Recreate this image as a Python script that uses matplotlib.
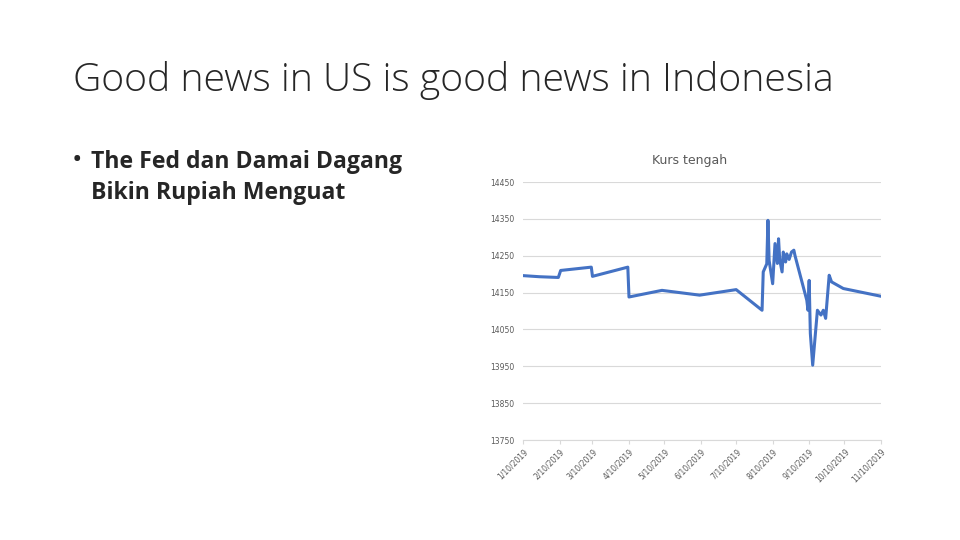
import numpy as np
import pandas as pd
import matplotlib
matplotlib.use('Agg')
import matplotlib.pyplot as plt

# data
dates = ['2019-01-10', '2019-01-24', '2019-02-09', '2019-02-11', '2019-03-09', '2019-03-10',
         '2019-04-09', '2019-04-10', '2019-05-08', '2019-06-09', '2019-07-10', '2019-08-01',
         '2019-08-02', '2019-08-05', '2019-08-06', '2019-08-07', '2019-08-10', '2019-08-12',
         '2019-08-14', '2019-08-15', '2019-08-16', '2019-08-18', '2019-08-19', '2019-08-21',
         '2019-08-22', '2019-08-24', '2019-08-26', '2019-08-28', '2019-08-29', '2019-09-08',
         '2019-09-09', '2019-09-10', '2019-09-11', '2019-09-13', '2019-09-17', '2019-09-20',
         '2019-09-22', '2019-09-24', '2019-09-27', '2019-09-29', '2019-10-09', '2019-11-10']
kurs = [14196, 14193, 14191, 14210, 14219, 14194,
        14219, 14138, 14156, 14143, 14158, 14102,
        14206, 14228, 14346, 14237, 14174, 14283,
        14229, 14296, 14239, 14206, 14260, 14233,
        14255, 14240, 14260, 14265, 14250, 14129,
        14102, 14183, 14039, 13953, 14102, 14089,
        14102, 14080, 14197, 14179, 14161, 14140]
tick_dates = pd.date_range('2019-01-01', '2019-11-01', freq='MS') + pd.Timedelta(days=9)
y_ticks = np.arange(13750, 14451, 100)

title = 'Good news in US is good news in Indonesia'
bullet_lines = ['The Fed dan Damai Dagang', 'Bikin Rupiah Menguat']
chart_title = 'Kurs tengah'

x = pd.to_datetime(dates)

fig = plt.figure(figsize=(9.6, 5.4), dpi=100)
fig.text(73 / 960, 1 - 80 / 540, title, fontsize=28.2, family='Open Sans', fontweight='light',
         color='#262626', va='center', ha='left')
fig.text(72 / 960, 1 - 161 / 540, '•', fontsize=20, family='Open Sans', color='#262626',
         va='center', ha='left')
fig.text(91 / 960, 1 - 162 / 540, bullet_lines[0], fontsize=16.6, family='Open Sans',
         fontweight='bold', color='#262626', va='center', ha='left')
fig.text(91 / 960, 1 - 193 / 540, bullet_lines[1], fontsize=16.6, family='Open Sans',
         fontweight='bold', color='#262626', va='center', ha='left')

ax = fig.add_axes([523 / 960, 1 - 440 / 540, (881 - 523) / 960, (440 - 182) / 540])
ax.plot(x, kurs, color='#4472C4', lw=2.2, solid_joinstyle='round')
ax.set_ylim(13750, 14450)
ax.set_yticks(y_ticks)
ax.set_xlim(tick_dates[0], tick_dates[-1])
ax.set_xticks(tick_dates)
ax.set_xticklabels([f'{d.month}/{d.day}/{d.year}' for d in tick_dates], rotation=45,
                   ha='right', rotation_mode='anchor')
ax.grid(axis='y', color='#D9D9D9', lw=0.8)
ax.set_axisbelow(True)
for s in ['top', 'right', 'left']:
    ax.spines[s].set_visible(False)
ax.spines['bottom'].set_color('#D9D9D9')
ax.tick_params(axis='y', length=0, labelsize=5.5, labelcolor='#595959', pad=6)
ax.tick_params(axis='x', length=3, color='#D9D9D9', labelsize=5.5, labelcolor='#595959', pad=2)
ax.text(0.466, 1.085, chart_title, transform=ax.transAxes, fontsize=9, color='#595959',
        ha='center', va='center')

fig.savefig('out.png', dpi=100)
